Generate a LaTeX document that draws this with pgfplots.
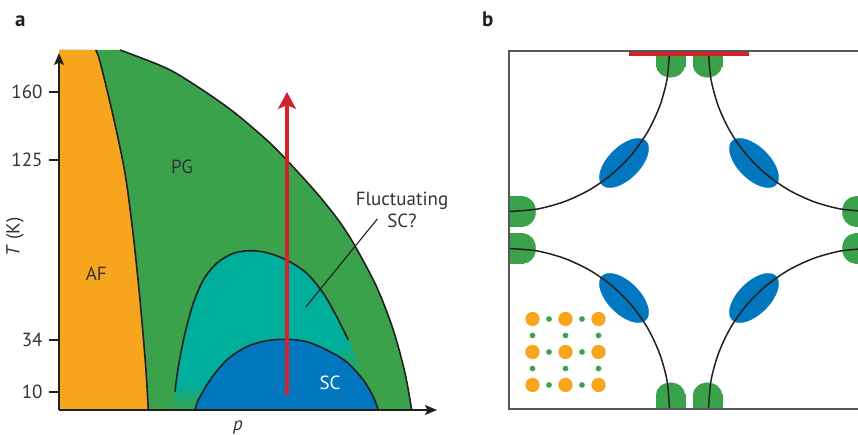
\documentclass[border=0pt]{standalone}
\usepackage{pgfplots}
\pgfplotsset{compat=1.18}
\usepackage{fontspec}
\setmainfont{PT Sans}
\usetikzlibrary{arrows.meta}
\definecolor{afor}{HTML}{F7A51D}
\definecolor{pgg}{HTML}{3AA24A}
\definecolor{flt}{HTML}{00AE9C}
\definecolor{scb}{HTML}{0077BF}
\definecolor{arr}{HTML}{D3222A}
\definecolor{ink}{HTML}{231F20}
\definecolor{txt}{HTML}{333333}
\definecolor{frm}{HTML}{555555}
\begin{document}
\fontsize{19}{22}\selectfont
\begin{tikzpicture}
\useasboundingbox (0,0) rectangle (858pt,435pt);
\node[anchor=base west, inner sep=0, font=\fontsize{21}{24}\selectfont\bfseries, text=ink] at (15pt,408.5pt) {a};
\node[anchor=base west, inner sep=0, font=\fontsize{21}{24}\selectfont\bfseries, text=ink] at (482pt,408.5pt) {b};

\begin{axis}[
  at={(59pt,25pt)}, anchor=south west, scale only axis,
  width=378pt, height=357pt, xmin=0, xmax=378, ymin=0, ymax=357,
  clip=false, axis on top,
  axis lines=left,
  axis line style={draw=ink, line width=1.3pt, -{Stealth[length=12pt,width=10pt,inset=2.5pt]}},
  xtick=\empty, ytick={18,70,250,318},
  yticklabels={\textrm{10},\textrm{34},\textrm{125},\textrm{160}},
  tick align=outside, major tick length=10pt,
  tick style={draw=ink, line width=1.2pt},
  yticklabel style={font=\fontsize{19}{22}\selectfont, text=txt},
]
% green PG region
\addplot[draw=none, fill=pgg, smooth] coordinates {(61,360) (107.7,341.7) (141,321.7) (174.3,298.3) (207.7,270) (227.7,250) (257.7,217) (280,189) (296,164) (317.7,123) (334.3,80) (346,37) (352.7,0)} -- (0,0) -- (0,360) -- cycle;
% orange AF region
\addplot[draw=none, fill=afor, smooth] coordinates {(36.7,360) (41,348.3) (54.3,293.3) (66,236.7) (74,177) (81,110) (86.7,43.3) (89.3,0)} -- (0,0) -- (0,360) -- cycle;
% teal fluctuating region
\addplot[draw=none, fill=flt, smooth] coordinates {(114,0) (116,18.3) (119.3,43.3) (126,76.7) (134.3,106.7) (144.3,130) (157.7,146.7) (174.3,156.7) (191,159.3) (207.7,157.3) (227.7,150) (247.7,136.7) (264.3,116.7) (277.7,93.3) (289.3,70) (295,58) (299,47) (303,35) (306,22)} -- (300,0) -- cycle;
% gradient patches
\addplot[draw=none, top color=flt, bottom color=pgg] coordinates {(114,0) (116.8,25) (152,25) (136,0)} -- cycle;
\addplot[draw=none, top color=flt, bottom color=pgg] coordinates {(280,66) (291,66) (295,58) (299,47) (303,35) (304,32) (280,32)} -- cycle;
% blue SC dome
\addplot[draw=none, fill=scb, smooth] coordinates {(136,0) (139.3,10) (151,30) (167.7,50) (187.7,63.3) (207.7,69.3) (227.7,70.7) (247.7,68.3) (267.7,60) (287.7,48) (304.3,30) (314.3,13.3) (319.3,0)} -- cycle;
% boundary lines
\addplot[draw=ink, line width=1.6pt, smooth] coordinates {(36.7,360) (41,348.3) (54.3,293.3) (66,236.7) (74,177) (81,110) (86.7,43.3) (89.3,0)};
\addplot[draw=ink, line width=1.6pt, smooth] coordinates {(61,360) (107.7,341.7) (141,321.7) (174.3,298.3) (207.7,270) (227.7,250) (257.7,217) (280,189) (296,164) (317.7,123) (334.3,80) (346,37) (352.7,0)};
\addplot[draw=ink, line width=1.6pt, smooth] coordinates {(116,18.3) (119.3,43.3) (126,76.7) (134.3,106.7) (144.3,130) (157.7,146.7) (174.3,156.7) (191,159.3) (207.7,157.3) (227.7,150) (247.7,136.7) (264.3,116.7) (277.7,93.3) (289.3,70)};
\addplot[draw=ink, line width=1.6pt, smooth] coordinates {(136,0) (139.3,10) (151,30) (167.7,50) (187.7,63.3) (207.7,69.3) (227.7,70.7) (247.7,68.3) (267.7,60) (287.7,48) (304.3,30) (314.3,13.3) (319.3,0)};
% leader line
\addplot[draw=ink, line width=1.1pt] coordinates {(318.3,191) (247,103.3)};
% red arrow
\addplot[draw=arr, line width=4pt, -{Stealth[length=17pt,width=18pt,inset=4pt]}] coordinates {(228,15) (228,318)};
% labels
\node[text=txt] at (axis cs:123,243) {PG};
\node[text=txt] at (axis cs:37.3,136.7) {AF};
\node[text=white] at (axis cs:271,26.7) {SC};
\node[text=txt, anchor=base] at (axis cs:343,204) {Fluctuating};
\node[text=txt, anchor=base] at (axis cs:343,182) {SC?};
\node[text=txt] at (axis cs:179,-18) {\textit{p}};
\node[text=txt, rotate=90] at (axis cs:-44,173) {\textit{T} (K)};
\end{axis}

\begin{axis}[
  at={(509pt,26pt)}, anchor=south west, scale only axis,
  width=360pt, height=358pt, xmin=0, xmax=360, ymin=0, ymax=358,
  xtick=\empty, ytick=\empty,
  axis line style={draw=frm, line width=1.2pt},
  clip=true, clip marker paths=true, axis on top,
]
% green antinodal blobs
\addplot[only marks, mark=*, mark size=14.5pt, mark options={draw=pgg, fill=pgg, line width=0.2pt, yscale=0.862}] coordinates {(161.5,344.2) (198.5,344.2) (161.5,13.8) (198.5,13.8)};
\addplot[only marks, mark=square*, mark size=14.5pt, mark options={draw=pgg, fill=pgg, line width=0.2pt, yscale=0.6}] coordinates {(161.5,352) (198.5,352) (161.5,6) (198.5,6)};
\addplot[only marks, mark=*, mark size=15pt, mark options={draw=pgg, fill=pgg, line width=0.2pt, xscale=0.85}] coordinates {(14,197.5) (14,160.5) (346,197.5) (346,160.5)};
\addplot[only marks, mark=square*, mark size=15pt, mark options={draw=pgg, fill=pgg, line width=0.2pt, xscale=0.6}] coordinates {(5,197.5) (5,160.5) (355,197.5) (355,160.5)};
% blue nodal ellipses
\addplot[only marks, mark=*, mark size=16pt, mark options={draw=scb, fill=scb, line width=0.2pt, rotate=45, xscale=1.94}] coordinates {(115,246) (245,111)};
\addplot[only marks, mark=*, mark size=16pt, mark options={draw=scb, fill=scb, line width=0.2pt, rotate=-45, xscale=1.94}] coordinates {(245,246) (115,111)};
% Fermi arcs
\addplot[draw=ink, line width=1.5pt, smooth] coordinates {(160.5,358) (158.1,330.1) (150.8,303.1) (139.0,277.8) (123.0,254.8) (103.2,235.1) (80.3,219.0) (54.9,207.2) (27.9,199.9) (0,197.5)};
\addplot[draw=ink, line width=1.5pt, smooth] coordinates {(199.5,358) (201.9,330.1) (209.2,303.1) (221.0,277.8) (237.0,254.8) (256.8,235.1) (279.7,219.0) (305.1,207.2) (332.1,199.9) (360,197.5)};
\addplot[draw=ink, line width=1.5pt, smooth] coordinates {(160.5,0) (158.1,27.9) (150.8,54.9) (139.0,80.3) (123.0,103.2) (103.2,123.0) (80.3,139.0) (54.9,150.8) (27.9,158.1) (0,160.5)};
\addplot[draw=ink, line width=1.5pt, smooth] coordinates {(199.5,0) (201.9,27.9) (209.2,54.9) (221.0,80.3) (237.0,103.2) (256.8,123.0) (279.7,139.0) (305.1,150.8) (332.1,158.1) (360,160.5)};
% red bar
\addplot[draw=arr, line width=4.7pt] coordinates {(120,355.7) (240,355.7)};
% lattice inset
\addplot[only marks, mark=*, mark size=7pt, mark options={draw=afor, fill=afor, line width=0.2pt}] coordinates {(23.5,24) (56.5,24) (89.5,24) (23.5,57) (56.5,57) (89.5,57) (23.5,90) (56.5,90) (89.5,90)};
\addplot[only marks, mark=*, mark size=2.7pt, mark options={draw=pgg, fill=pgg, line width=0.2pt}] coordinates {(40,24) (73,24) (40,57) (73,57) (40,90) (73,90) (23.5,40.5) (56.5,40.5) (89.5,40.5) (23.5,73.5) (56.5,73.5) (89.5,73.5)};
\end{axis}
\end{tikzpicture}
\end{document}
